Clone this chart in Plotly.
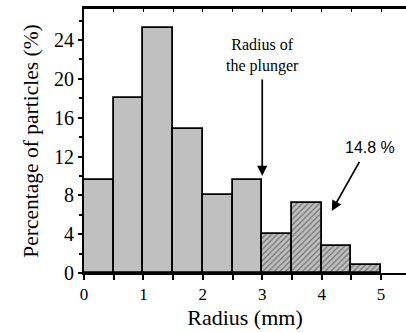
import plotly.graph_objects as go

bin_left = [0, 0.5, 1.0, 1.5, 2.0, 2.5, 3.0, 3.5, 4.0, 4.5]
percent = [9.6, 18.0, 25.2, 14.8, 8.0, 9.6, 4.0, 7.2, 2.8, 0.8]
plunger_radius = 3.0
bin_width = 0.5

centers = [b + bin_width / 2 for b in bin_left]
patterns = ["/" if b >= plunger_radius else "" for b in bin_left]

serif = "Liberation Serif"
sans = "Liberation Sans"

fig = go.Figure()
fig.add_trace(go.Bar(
    x=centers, y=percent, width=bin_width,
    marker=dict(color="#c0c0c0",
                line=dict(color="black", width=1.8),
                pattern=dict(shape=patterns, fgcolor="#222222", bgcolor="#c0c0c0",
                             size=4, solidity=0.3)),
    showlegend=False,
))
# invisible trace for top axis
fig.add_trace(go.Scatter(x=[0], y=[0], xaxis="x2", yaxis="y", mode="markers",
                         marker=dict(opacity=0), showlegend=False, hoverinfo="skip"))

fig.add_annotation(x=3.0, y=10.0, ax=3.0, ay=20.1, xref="x", yref="y", axref="x", ayref="y",
                   showarrow=True, arrowhead=2, arrowsize=1.2, arrowwidth=1.7, arrowcolor="black",
                   text="")
fig.add_annotation(x=3.0, y=22.4, xref="x", yref="y", showarrow=False,
                   text="Radius of<br>the plunger", align="center", yanchor="middle",
                   font=dict(family=serif, size=16, color="black"))
fig.add_annotation(x=4.17, y=6.4, ax=4.65, ay=11.6, xref="x", yref="y", axref="x", ayref="y",
                   showarrow=True, arrowhead=2, arrowsize=1.2, arrowwidth=1.7, arrowcolor="black",
                   text="")
fig.add_annotation(x=4.82, y=12.9, xref="x", yref="y", showarrow=False,
                   text="14.8 %", font=dict(family=sans, size=16, color="black"))

fig.update_layout(
    width=406, height=332,
    margin=dict(l=84, r=0, t=9, b=59),
    plot_bgcolor="white", paper_bgcolor="white",
    font=dict(family=serif, color="black"),
    bargap=0,
    xaxis=dict(range=[0, 5.42], tickvals=[0, 1, 2, 3, 4, 5], ticks="outside", ticklen=5,
               tickwidth=1.8, tickcolor="black", showline=True, linecolor="black", linewidth=2,
               showgrid=False, zeroline=False,
               minor=dict(tickvals=[0.5, 1.5, 2.5, 3.5, 4.5], ticks="outside", ticklen=5,
                          tickwidth=1.8, tickcolor="black"),
               tickfont=dict(family=serif, size=17, color="black"),
               title=dict(text="Radius (mm)", font=dict(family=serif, size=22, color="black"),
                          standoff=6)),
    xaxis2=dict(range=[0, 5.42], overlaying="x", side="top", anchor="y",
                tickvals=[0, 0.5, 1, 1.5, 2, 2.5, 3, 3.5, 4, 4.5, 5], ticks="inside", ticklen=3,
                tickwidth=1.4, tickcolor="black", showticklabels=False,
                showline=True, linecolor="black", linewidth=3, showgrid=False, zeroline=False),
    yaxis=dict(range=[0, 27.2], tickvals=[0, 4, 8, 12, 16, 20, 24], ticks="outside", ticklen=4,
               tickwidth=1.8, tickcolor="black", showline=True, linecolor="black", linewidth=2,
               showgrid=False, zeroline=False,
               minor=dict(tickvals=[2, 6, 10, 14, 18, 22, 26], ticks="outside", ticklen=3,
                          tickwidth=1.6, tickcolor="black"),
               tickfont=dict(family=serif, size=20, color="black"),
               title=dict(text="Percentage of particles (%)",
                          font=dict(family=serif, size=21.5, color="black"), standoff=9)),
)

fig.write_html("out.html")
